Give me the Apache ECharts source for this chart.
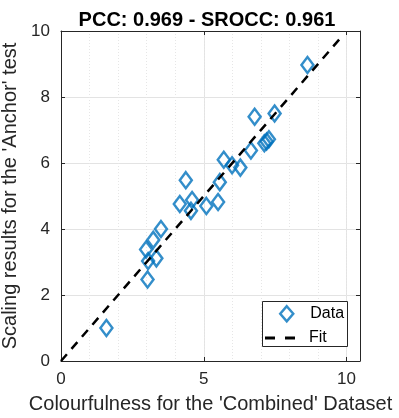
<!DOCTYPE html>
<html>
<head>
<meta charset="utf-8">
<script src="https://cdn.jsdelivr.net/npm/echarts@6/dist/echarts.min.js"></script>
<style>
    html, body { margin: 0; padding: 0; background: #fff; }
    #chart { width: 399px; height: 418px; }
</style>
</head>
<body>
<div id="chart"></div>
<script>
    // data
    var dataX = [1.59, 3.03, 2.98, 3.05, 3.34, 3.23, 3.5, 4.16, 4.37, 4.59, 4.55, 5.09, 5.5, 5.56, 5.7, 5.99, 6.28, 6.65, 6.78, 7.12, 7.2, 7.28, 7.48, 8.63];
    var dataY = [1.0, 2.47, 3.38, 3.03, 3.11, 3.67, 4.0, 4.76, 5.48, 4.88, 4.55, 4.7, 4.82, 5.42, 6.1, 5.93, 5.86, 6.38, 7.4, 6.6, 6.65, 6.72, 7.5, 8.97];
    var fitX = [0, 9.8];
    var fitY = [0, 9.8];
    var xTicks = [0, 5, 10];
    var yTicks = [0, 2, 4, 6, 8, 10];
    var xMax = 10.47;   // the box runs a bit past 10 on x

    var font = 'Liberation Sans, Arial, sans-serif';
    var blue = '#0072BD';
    var axisColor = '#262626';

    var points = dataX.map(function (x, i) { return [x, dataY[i]]; });
    var fitLine = fitX.map(function (x, i) { return [x, fitY[i]]; });

    var chart = echarts.init(document.getElementById('chart'));

    // extra box axes (top / right), no labels
    function boxAxis(pos, max, interval) {
        return {
            type: 'value', min: 0, max: max, interval: interval, position: pos,
            axisLine: { show: true, onZero: false, lineStyle: { color: axisColor } },
            axisTick: { show: true, inside: true, length: 4, lineStyle: { color: axisColor } },
            axisLabel: { show: false },
            splitLine: { show: false }
        };
    }

    chart.setOption({
        animation: false,
        title: {
            text: 'PCC: 0.969 - SROCC: 0.961',
            left: 202, top: 5, textAlign: 'center',
            textStyle: { fontFamily: font, fontSize: 20, fontWeight: 'bold', color: '#000' }
        },
        grid: { left: 61, right: 39, top: 31, bottom: 57, containLabel: false, outerBoundsMode: 'none' },
        graphic: [{
            // legend box
            type: 'rect', z: 3,
            shape: { x: 262.5, y: 301.5, width: 85, height: 45 },
            style: { fill: '#fff', stroke: axisColor, lineWidth: 1 }
        }],
        legend: [{
            left: 279, top: 305,
            z: 4,
            padding: 0,
            itemWidth: 13, itemHeight: 15,
            textStyle: { fontFamily: font, fontSize: 16, color: '#000', padding: [0, 0, 0, 12] },
            data: [{ name: 'Data', icon: 'diamond', itemStyle: { color: 'transparent', borderColor: blue, borderWidth: 2.5 } }]
        }, {
            left: 265, top: 330,
            z: 4,
            padding: 0,
            itemWidth: 30, itemHeight: 3,
            textStyle: { fontFamily: font, fontSize: 16, color: '#000', padding: [0, 0, 0, 9] },
            data: [{ name: 'Fit', icon: 'path://M0,0h10v3h-10zM20,0h10v3h-10z', itemStyle: { color: '#000' } }]
        }],
        xAxis: [{
            type: 'value', min: 0, max: xMax, interval: 5,
            axisLine: { onZero: false, lineStyle: { color: axisColor } },
            axisTick: { inside: true, length: 4, lineStyle: { color: axisColor } },
            axisLabel: {
                fontFamily: font, fontSize: 17, color: axisColor, margin: 10,
                formatter: function (v) { return xTicks.indexOf(v) >= 0 ? String(v) : ''; }
            },
            splitLine: { lineStyle: { color: '#e3e3e3' } },
            name: "Colourfulness for the 'Combined' Dataset",
            nameLocation: 'middle', nameGap: 33,
            nameTextStyle: { fontFamily: font, fontSize: 20, color: axisColor }
        }, boxAxis('top', xMax, 5), {
            // dotted minor grid every 1 unit
            type: 'value', min: 0, max: xMax, interval: 1, position: 'bottom', z: 0,
            axisLine: { show: false }, axisTick: { show: false }, axisLabel: { show: false },
            splitLine: { show: true, lineStyle: { color: '#e6e6e6', type: [1, 2] } }
        }],
        yAxis: [{
            type: 'value', min: 0, max: 10, interval: 2,
            axisLine: { show: true, onZero: false, lineStyle: { color: axisColor } },
            axisTick: { show: true, inside: true, length: 4, lineStyle: { color: axisColor } },
            axisLabel: { fontFamily: font, fontSize: 17, color: axisColor, margin: 11 },
            splitLine: { lineStyle: { color: '#e3e3e3' } },
            name: "Scaling results for the 'Anchor' test",
            nameLocation: 'middle', nameGap: 38,
            nameTextStyle: { fontFamily: font, fontSize: 20, color: axisColor }
        }, boxAxis('right', 10, 2)],
        series: [{
            name: 'Fit',
            type: 'line',
            data: fitLine,
            symbol: 'none',
            z: 3,
            lineStyle: { color: '#000', width: 2.5, type: [9, 7] },
            itemStyle: { color: '#000' }
        }, {
            name: 'Data',
            type: 'scatter',
            data: points,
            symbol: 'diamond',
            symbolSize: [12, 16],
            z: 2,
            itemStyle: { color: 'transparent', borderColor: blue, borderWidth: 2.5 }
        }]
    });
</script>
</body>
</html>
